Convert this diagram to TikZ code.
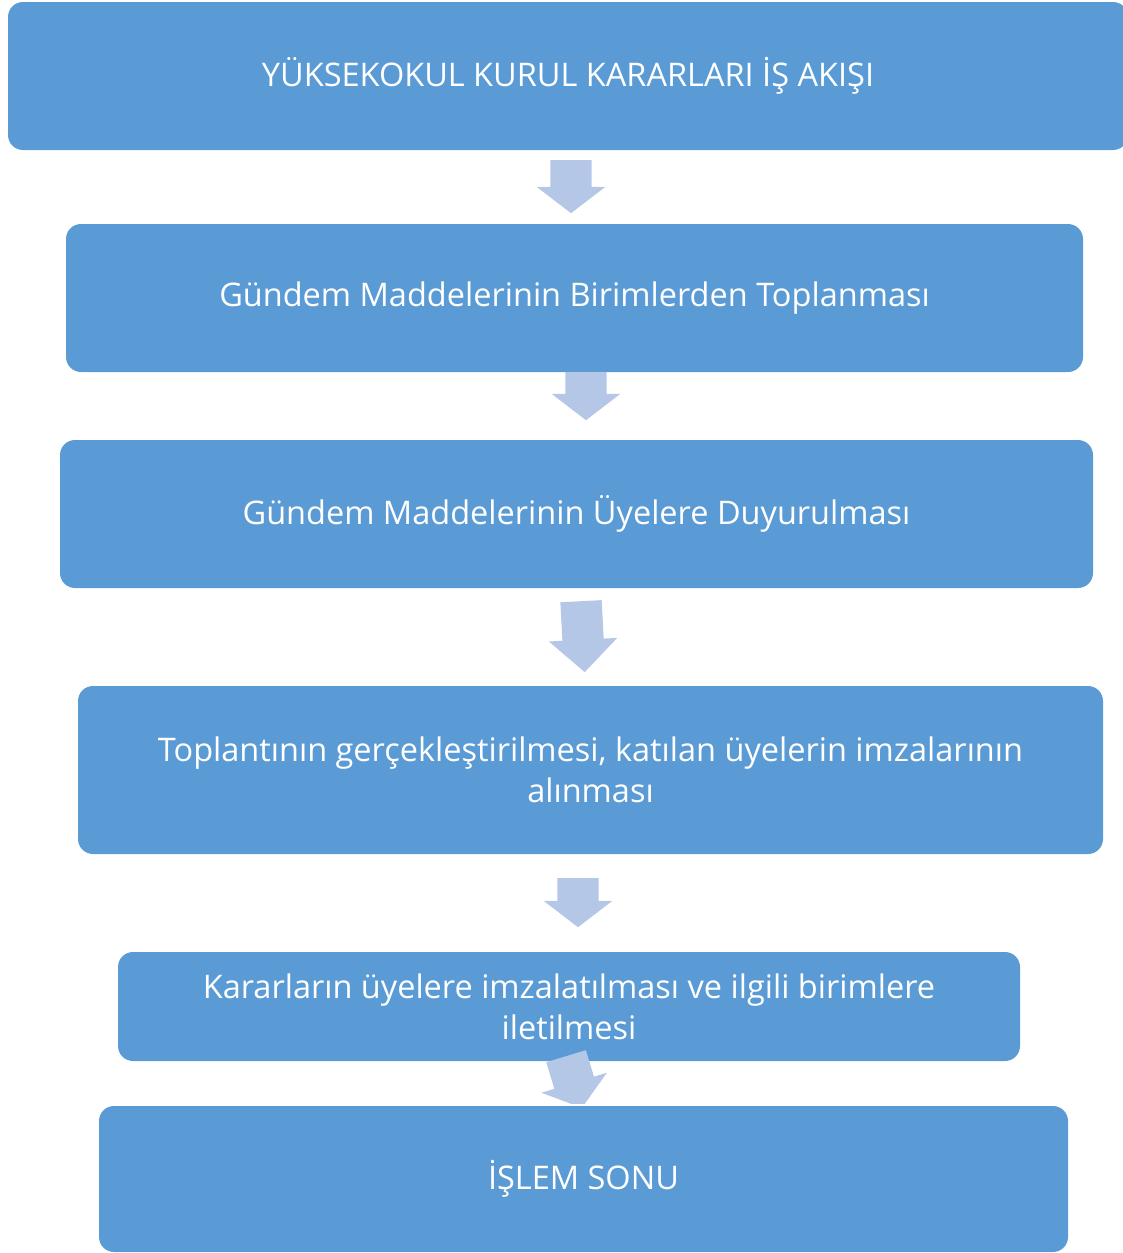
\documentclass[tikz,border=0pt]{standalone}
\usepackage{fontspec}
\setmainfont{Open Sans}
\usetikzlibrary{shapes.arrows}
\definecolor{boxblue}{HTML}{5B9BD5}
\definecolor{arrowblue}{HTML}{B4C7E7}
\begin{document}
\begin{tikzpicture}[x=1pt,y=1pt,
    flowbox/.style={rectangle,rounded corners=15pt,fill=boxblue,text=white,
      align=center,inner sep=0pt,font=\fontsize{32.5}{41}\selectfont},
    flowarrow/.style={single arrow,fill=arrowblue,inner xsep=0pt,inner ysep=20.5pt,
      single arrow head extend=13.5pt,single arrow tip angle=105,anchor=tail}]
           \useasboundingbox (0,0) rectangle (1123,-1253);
           \node [flowbox,minimum width=1120,minimum height=148] (title) at (568,-76) {YÜKSEKOKUL KURUL KARARLARI İŞ AKIŞI};
           \node [flowbox,minimum width=1017,minimum height=148] (collect) at (574.5,-298) {Gündem Maddelerinin Birimlerden Toplanması};
           \node [flowbox,minimum width=1033,minimum height=148] (announce) at (576.5,-514) {Gündem Maddelerinin Üyelere Duyurulması};
           \node [flowbox,minimum width=1025,minimum height=168] (meeting) at (590.5,-770) {Toplantının gerçekleştirilmesi, katılan üyelerin imzalarının\\alınması};
           \node [flowbox,minimum width=902,minimum height=109] (sign) at (569,-1006.5) {Kararların üyelere imzalatılması ve ilgili birimlere\\iletilmesi};
           \node [flowbox,minimum width=969,minimum height=146] (finish) at (583.5,-1179) {İŞLEM SONU};
           \node [flowarrow,rotate=-90,minimum height=53] (a1) at (571,-160) {};
           \node [flowarrow,rotate=-90,minimum height=48] (a2) at (586,-372) {};
           \node [flowarrow,rotate=-87,minimum height=71,single arrow tip angle=93] (a3) at (581,-601) {};
           \node [flowarrow,rotate=-90,minimum height=49] (a4) at (578,-878) {};
           \begin{scope}
             \clip (0,-1040) rectangle (1123,-1103);
             \node [flowarrow,rotate=-73,minimum height=54] (a5) at (566,-1056) {};
           \end{scope}
      \end{tikzpicture}
\end{document}
